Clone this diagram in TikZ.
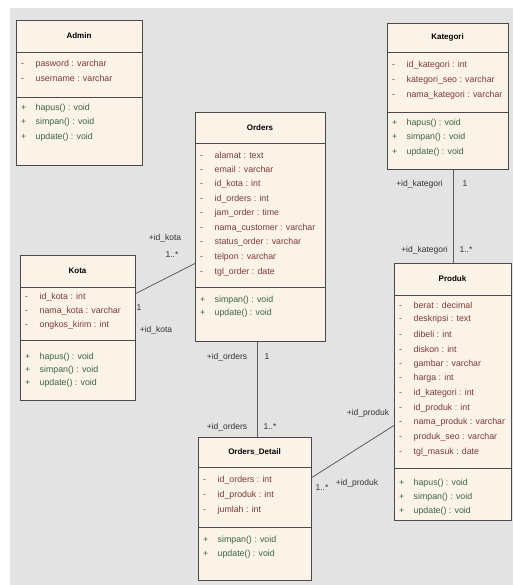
\documentclass[tikz,border=0pt]{standalone}
\usepackage{fontspec}
\setmainfont{Liberation Sans}
\definecolor{bggrey}{HTML}{E3E3E3}
\definecolor{boxfill}{HTML}{FBF3E8}
\definecolor{boxline}{HTML}{4A4A4A}
\definecolor{attrcol}{HTML}{7A3A34}
\definecolor{methcol}{HTML}{3A6440}
\definecolor{lblcol}{HTML}{333333}
\tikzset{
  classbox/.style={draw=boxline, fill=boxfill, line width=0.9pt, inner sep=0pt, rectangle},
  divline/.style={draw=boxline, line width=0.9pt},
  titlest/.style={font=\fontsize{8}{9}\selectfont\bfseries, text=black, inner sep=0pt},
  attrst/.style={font=\fontsize{8.8}{10}\selectfont, text=attrcol, anchor=west, inner sep=0pt},
  methst/.style={font=\fontsize{8.8}{10}\selectfont, text=methcol, anchor=west, inner sep=0pt},
  lbl/.style={font=\fontsize{8.5}{10}\selectfont, text=lblcol, inner sep=0pt},
  conn/.style={draw=boxline!90, line width=0.8pt}
}
% #1 name, #2 x1, #3 x2, #4 top, #5 div1, #6 div2, #7 bottom, #8 title
\newcommand\umlclass[8]{%
  \node[classbox, minimum width={(#3-#2)*1pt}, minimum height={(#7-#4)*1pt}, anchor=north west] (#1) at (#2,#4) {};
  \draw[divline] (#2,#5) -- (#3,#5);
  \draw[divline] (#2,#6) -- (#3,#6);
  \node[titlest] (#1-title) at ({(#2+#3)/2},{(#4+#5)/2}) {#8};
}
% #1 prefix, #2 x, #3 y0, #4 step, #5 marker, #6 style, #7 list
\newcommand\itemlist[7]{%
  \foreach \itm [count=\i] in {#7} {\node[#6] (#1\i) at (#2,{#3+(\i-1)*#4}) {\makebox[14.5pt][l]{#5}\itm};}
}
\begin{document}
\begin{tikzpicture}[x=1pt,y=-1pt]
\useasboundingbox (0,0) rectangle (513,585);
\fill[white] (0,0) rectangle (513,585);
\fill[bggrey] (10,8) rectangle (513,585);

% Admin
\umlclass{admin}{16}{142}{20}{52}{97}{165}{Admin}
\itemlist{admin-a}{21}{64}{14}{-}{attrst}{pasword : varchar, username : varchar}
\itemlist{admin-m}{21}{108}{14.5}{+}{methst}{hapus() : void, simpan() : void, update() : void}

% Kategori
\umlclass{kategori}{387}{508}{23}{52}{112}{169}{Kategori}
\itemlist{kategori-a}{392}{65}{15}{-}{attrst}{id\_kategori : int, kategori\_seo : varchar, nama\_kategori : varchar}
\itemlist{kategori-m}{392}{123}{14.5}{+}{methst}{hapus() : void, simpan() : void, update() : void}

% Orders
\umlclass{orders}{195}{325}{112}{143}{287}{341}{Orders}
\itemlist{orders-a}{200}{155}{14.6}{-}{attrst}{alamat : text, email : varchar, id\_kota : int, id\_orders : int, jam\_order : time, nama\_customer : varchar, status\_order : varchar, telpon : varchar, tgl\_order : date}
\itemlist{orders-m}{200}{300}{13.5}{+}{methst}{simpan() : void, update() : void}

% Kota
\umlclass{kota}{20}{135}{255}{287}{340}{400}{Kota}
\itemlist{kota-a}{25}{297}{14}{-}{attrst}{id\_kota : int, nama\_kota : varchar, ongkos\_kirim : int}
\itemlist{kota-m}{25}{357}{13}{+}{methst}{hapus() : void, simpan() : void, update() : void}

% Produk
\umlclass{produk}{394}{511}{263}{295}{468}{520}{Produk}
\itemlist{produk-a}{399}{305}{14.7}{-}{attrst}{berat : decimal, deskripsi : text, dibeli : int, diskon : int, gambar : varchar, harga : int, id\_kategori : int, id\_produk : int, nama\_produk : varchar, produk\_seo : varchar, tgl\_masuk : date}
\itemlist{produk-m}{399}{483}{14}{+}{methst}{hapus() : void, simpan() : void, update() : void}

% Orders_Detail
\umlclass{detail}{198}{311}{437}{467}{527}{580}{Orders\_Detail}
\itemlist{detail-a}{203}{480}{15}{-}{attrst}{id\_orders : int, id\_produk : int, jumlah : int}
\itemlist{detail-m}{203}{540}{14}{+}{methst}{simpan() : void, update() : void}

% connectors
\draw[conn] ([yshift=34.5pt]kota.east) -- ([yshift=-36.5pt]orders.west);
\draw[conn] ([xshift=-3pt]orders.south) -- ([xshift=-3pt]orders.south |- detail.north);
\draw[conn] ([yshift=31.5pt]detail.east) -- ([yshift=-33.5pt]produk.west);
\draw[conn] (produk.north |- kategori.south) -- (produk.north);

% labels
\node[lbl] (lk1) at (165,238) {+id\_kota};
\node[lbl] (lk2) at (172,255) {1..*};
\node[lbl] (lk3) at (139,308) {1};
\node[lbl] (lk4) at (156,330) {+id\_kota};
\node[lbl] (lo1) at (227,357) {+id\_orders};
\node[lbl] (lo2) at (267,357) {1};
\node[lbl] (lo3) at (227,427) {+id\_orders};
\node[lbl] (lo4) at (270,427) {1..*};
\node[lbl, anchor=east] (lc1) at (443,184) {+id\_kategori};
\node[lbl] (lc2) at (465,184) {1};
\node[lbl, anchor=east] (lc3) at (448,250) {+id\_kategori};
\node[lbl] (lc4) at (466,250) {1..*};
\node[lbl] (lp1) at (368,413) {+id\_produk};
\node[lbl] (lp2) at (322,488) {1..*};
\node[lbl] (lp3) at (357,483) {+id\_produk};
\end{tikzpicture}
\end{document}
